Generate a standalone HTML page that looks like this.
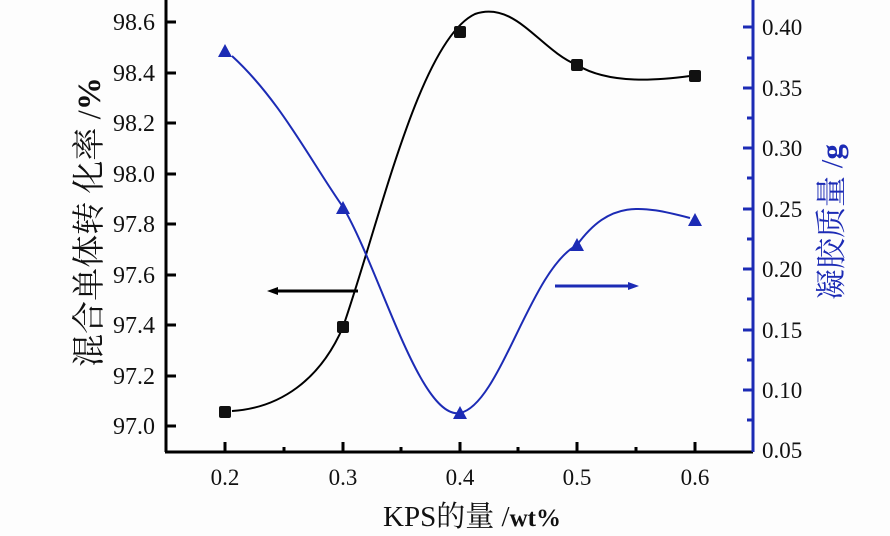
<!DOCTYPE html><html><head><meta charset="utf-8"><style>body{margin:0;background:#fff}svg{display:block}</style></head><body>
<svg width="890" height="536" xmlns="http://www.w3.org/2000/svg" font-family="Liberation Serif, Noto Serif CJK SC, serif">
<rect width="890" height="536" fill="#fdfdfd"/>
<g stroke="#000" stroke-width="3" fill="none">
<line x1="166" y1="0" x2="166" y2="452"/>
<line x1="165" y1="452" x2="753" y2="452"/>
</g>
<line x1="753" y1="0" x2="753" y2="452" stroke="#1c2bb5" stroke-width="3"/>
<g stroke="#000" stroke-width="3">
<line x1="166" y1="22" x2="176" y2="22"/><line x1="166" y1="73" x2="176" y2="73"/><line x1="166" y1="123" x2="176" y2="123"/><line x1="166" y1="174" x2="176" y2="174"/><line x1="166" y1="224" x2="176" y2="224"/><line x1="166" y1="275" x2="176" y2="275"/><line x1="166" y1="325" x2="176" y2="325"/><line x1="166" y1="376" x2="176" y2="376"/><line x1="166" y1="426" x2="176" y2="426"/>
<line x1="225" y1="452" x2="225" y2="442"/><line x1="343" y1="452" x2="343" y2="442"/><line x1="460" y1="452" x2="460" y2="442"/><line x1="577" y1="452" x2="577" y2="442"/><line x1="695" y1="452" x2="695" y2="442"/>
<line x1="284" y1="452" x2="284" y2="447"/><line x1="401" y1="452" x2="401" y2="447"/><line x1="518" y1="452" x2="518" y2="447"/><line x1="636" y1="452" x2="636" y2="447"/>
</g>
<g stroke="#1c2bb5" stroke-width="3">
<line x1="743" y1="27" x2="753" y2="27"/><line x1="743" y1="88" x2="753" y2="88"/><line x1="743" y1="148" x2="753" y2="148"/><line x1="743" y1="209" x2="753" y2="209"/><line x1="743" y1="269" x2="753" y2="269"/><line x1="743" y1="330" x2="753" y2="330"/><line x1="743" y1="390" x2="753" y2="390"/>
<line x1="747" y1="58" x2="753" y2="58"/><line x1="747" y1="118" x2="753" y2="118"/><line x1="747" y1="178" x2="753" y2="178"/><line x1="747" y1="239" x2="753" y2="239"/><line x1="747" y1="299" x2="753" y2="299"/><line x1="747" y1="360" x2="753" y2="360"/><line x1="747" y1="420" x2="753" y2="420"/>
</g>
<g font-size="24" fill="#111" text-anchor="end">
<text x="155" y="30">98.6</text><text x="155" y="81">98.4</text><text x="155" y="131">98.2</text><text x="155" y="182">98.0</text><text x="155" y="232">97.8</text><text x="155" y="283">97.6</text><text x="155" y="333">97.4</text><text x="155" y="384">97.2</text><text x="155" y="434">97.0</text>
</g>
<g font-size="23" fill="#111">
<text x="762" y="35">0.40</text><text x="762" y="96">0.35</text><text x="762" y="156">0.30</text><text x="762" y="217">0.25</text><text x="762" y="277">0.20</text><text x="762" y="338">0.15</text><text x="762" y="398">0.10</text><text x="762" y="458">0.05</text>
</g>
<g font-size="23" fill="#111" text-anchor="middle">
<text x="225" y="485">0.2</text><text x="343" y="485">0.3</text><text x="460" y="485">0.4</text><text x="577" y="485">0.5</text><text x="695" y="485">0.6</text>
</g>
<text x="472" y="526" font-size="29" text-anchor="middle" fill="#111">KPS的量 /<tspan font-weight="bold" font-size="25">wt%</tspan></text>
<text transform="translate(100,222) rotate(-90)" font-size="33" text-anchor="middle" fill="#111">混合单体转 化率 /<tspan font-weight="bold">%</tspan></text>
<text transform="translate(842,222) rotate(-90)" font-size="31" text-anchor="middle" fill="#1c2bb5">凝胶质量 /<tspan font-weight="bold">g</tspan></text>
<path d="M232,411 C280,408 320,380 343,327 C380,220 420,40 475,14 C515,0 540,50 577,65 C610,85 660,80 690,76" stroke="#000" stroke-width="2" fill="none"/>
<path d="M232,56 C280,100 310,160 343,207 C380,270 420,420 460,413 C500,405 530,270 577,245 C610,200 640,205 690,218" stroke="#1c2bb5" stroke-width="2" fill="none"/>
<g fill="#111">
<rect x="219" y="406" width="12" height="12" rx="2"/><rect x="337" y="321" width="12" height="12" rx="2"/><rect x="454" y="26" width="12" height="12" rx="2"/><rect x="571" y="59" width="12" height="12" rx="2"/><rect x="689" y="70" width="12" height="12" rx="2"/>
</g>
<g fill="#1c2bb5">
<polygon points="225,44 232,57 218,57"/><polygon points="343,201 350,214 336,214"/><polygon points="460,406 467,419 453,419"/><polygon points="577,238 584,251 570,251"/><polygon points="695,213 702,226 688,226"/>
</g>
<line x1="275" y1="291" x2="358" y2="291" stroke="#000" stroke-width="3"/>
<polygon points="267,291 278,287 278,295" fill="#000"/>
<line x1="555" y1="286" x2="630" y2="286" stroke="#1c2bb5" stroke-width="3"/>
<polygon points="639,286 628,282 628,290" fill="#1c2bb5"/>
</svg>
</body></html>
